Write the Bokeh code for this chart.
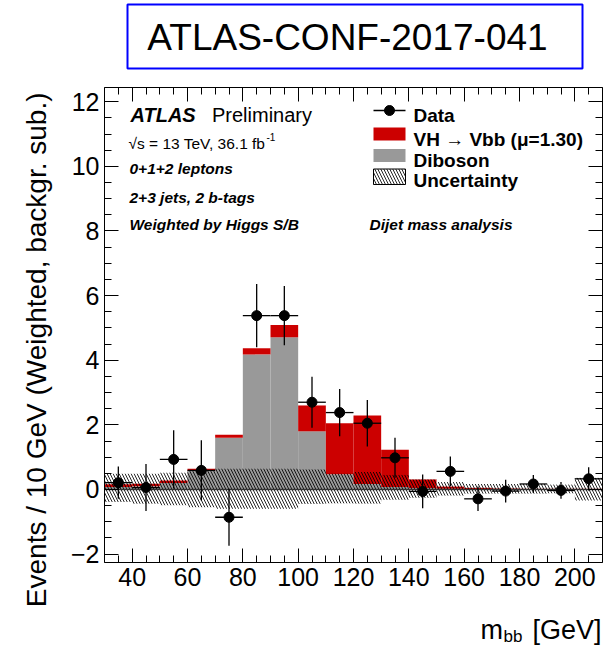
import numpy as np
from bokeh.plotting import figure
from bokeh.models import Range1d, LinearAxis, SingleIntervalTicker, Label, CustomJSTickFormatter
from bokeh.embed import file_html
from bokeh.resources import INLINE

FONT = "Liberation Sans"

# ---- data: m_bb distribution, 10 GeV bins, weighted and background subtracted ----
bin_edges = [30, 40, 50, 60, 70, 80, 90, 100, 110, 120, 130, 140, 150, 160, 170, 180, 190, 200, 210]
diboson = [0.08, 0.10, 0.20, 0.57, 1.60, 4.18, 4.71, 1.80, 0.47, 0.17, 0.08, 0.04, 0.02, 0.01, 0.0, 0.0, 0.0, 0.0]
vh_signal = [0.08, 0.08, 0.08, 0.07, 0.09, 0.19, 0.38, 0.80, 1.58, 2.12, 1.15, 0.27, 0.07, 0.04, 0.03, 0.02, 0.02, 0.02]
unc_up = [0.49, 0.49, 0.52, 0.60, 0.64, 0.64, 0.64, 0.62, 0.49, 0.54, 0.45, 0.31, 0.23, 0.17, 0.17, 0.17, 0.15, 0.36]
unc_down = [0.39, 0.44, 0.49, 0.55, 0.60, 0.60, 0.60, 0.45, 0.43, 0.44, 0.32, 0.26, 0.19, 0.13, 0.13, 0.13, 0.12, 0.34]
data_vals = [0.21, 0.06, 0.93, 0.59, -0.86, 5.38, 5.38, 2.70, 2.38, 2.05, 0.98, -0.06, 0.56, -0.29, -0.05, 0.17, -0.03, 0.33]
data_errs = [0.50, 0.73, 0.90, 0.93, 0.88, 0.98, 0.92, 0.79, 0.73, 0.72, 0.62, 0.52, 0.46, 0.38, 0.35, 0.28, 0.26, 0.36]

x_tick_step = 20
y_tick_step = 2

# ---- derived arrays ----
left = np.array(bin_edges[:-1], dtype=float)
right = np.array(bin_edges[1:], dtype=float)
centers = 0.5 * (left + right)
dib = np.array(diboson)
stack_top = dib + np.array(vh_signal)
dv = np.array(data_vals)
de = np.array(data_errs)

# ---- page geometry ----
W, H = 610, 645
X0, X1 = 30.0, 210.0          # axis bounds
Y0, Y1 = -2.26, 12.44
L, R, T, B = 104.0, 602.0, 87.0, 562.0   # plot box on the page (pixels)

SX = (R - L) / (X1 - X0)
SY = (B - T) / (Y1 - Y0)


def gx(px):
    return X0 + (px - L) / SX


def gy(py):
    return Y0 + (B - py) / SY


p = figure(width=W, height=H,
           x_range=Range1d(gx(0), gx(W)), y_range=Range1d(gy(H), gy(0)),
           toolbar_location=None, output_backend="svg",
           x_axis_location=None, y_axis_location=None, min_border=0)
p.grid.visible = False
p.outline_line_color = None
p.background_fill_color = "white"
p.border_fill_color = "white"


def make_axis(step, loc, bounds, labelled):
    ax = LinearAxis(ticker=SingleIntervalTicker(interval=step, num_minor_ticks=4),
                    fixed_location=loc, bounds=bounds)
    ax.major_tick_in = 14
    ax.major_tick_out = 0
    ax.minor_tick_in = 7
    ax.minor_tick_out = 0
    ax.axis_line_color = "black"
    ax.axis_line_width = 1
    ax.major_tick_line_color = "black"
    ax.minor_tick_line_color = "black"
    if labelled:
        ax.major_label_text_font = FONT
        ax.major_label_text_font_size = "25px"
        ax.major_label_text_color = "black"
        ax.major_label_standoff = 5
    else:
        # mirrored tick marks only
        ax.formatter = CustomJSTickFormatter(code="return ''")
        ax.major_label_standoff = 0
    return ax


p.add_layout(make_axis(x_tick_step, Y0, (X0, X1), True), "below")
p.add_layout(make_axis(x_tick_step, Y1, (X0, X1), False), "above")
y_left = make_axis(y_tick_step, X0, (Y0, Y1), True)
y_left.major_label_overrides = {-2: "\u22122"}
p.add_layout(y_left, "left")
p.add_layout(make_axis(y_tick_step, X1, (Y0, Y1), False), "right")

# stacked histograms
p.quad(left=left, right=right, bottom=0, top=dib, fill_color="#999999", line_color=None)
p.quad(left=left, right=right, bottom=dib, top=stack_top, fill_color="#cc0000", line_color=None)

# background uncertainty band
p.quad(left=left, right=right, bottom=-np.array(unc_down), top=np.array(unc_up),
       fill_color=None, line_color=None, hatch_pattern="\\", hatch_color="black",
       hatch_scale=6, hatch_weight=1, hatch_alpha=0.85)

# zero line
p.segment(x0=[X0], x1=[X1], y0=[0], y1=[0], line_color="#333333", line_width=1.5)

# data points with errors
p.segment(x0=centers, x1=centers, y0=dv - de, y1=dv + de, line_color="black", line_width=1.3)
p.segment(x0=left, x1=right, y0=dv, y1=dv, line_color="black", line_width=1.3)
p.scatter(centers, dv, size=10, color="black")


def lab(px, py, text, size, style="normal", align="left", baseline="alphabetic", angle=0.0):
    p.add_layout(Label(x=gx(px), y=gy(py), text=text,
                       text_font=FONT, text_font_size=size, text_font_style=style,
                       text_align=align, text_baseline=baseline, angle=angle,
                       text_color="black"))


# header box
p.quad(left=[gx(127)], right=[gx(582)], top=[gy(4)], bottom=[gy(68)], fill_color=None,
       line_color="#0000ff", line_width=2)
lab(347, 37, "ATLAS-CONF-2017-041", "37px", align="center", baseline="middle")

# ATLAS labels
lab(130, 114.5, "ATLAS", "20px", "bold italic")
lab(211.5, 114.5, "Preliminary", "20px")
lab(128, 142.5, "\u221as = 13 TeV, 36.1 fb", "15.5px")
lab(266, 136, "-1", "10px")
lab(129, 168, "0+1+2 leptons", "15.5px", "bold italic")
lab(129, 196.5, "2+3 jets, 2 b-tags", "15.5px", "bold italic")
lab(129, 224, "Weighted by Higgs S/B", "15.5px", "bold italic")
lab(369, 224, "Dijet mass analysis", "15.5px", "bold italic")

# legend
p.segment(x0=[gx(373)], x1=[gx(405)], y0=[gy(110)], y1=[gy(110)], line_color="black", line_width=1.3)
p.scatter([gx(389)], [gy(110)], size=10, color="black")
p.quad(left=[gx(373)], right=[gx(405)], top=[gy(127)], bottom=[gy(140)],
       fill_color="#cc0000", line_color=None)
p.quad(left=[gx(373)], right=[gx(405)], top=[gy(148.5)], bottom=[gy(161.5)],
       fill_color="#999999", line_color=None)
p.quad(left=[gx(373)], right=[gx(405)], top=[gy(168.5)], bottom=[gy(184)], fill_color=None,
       line_color="black", line_width=1, hatch_pattern="\\", hatch_color="black",
       hatch_scale=6, hatch_weight=1, hatch_alpha=0.85)
lab(413, 115, "Data", "19px", "bold")
lab(413, 139, "VH \u2192 Vbb (\u03bc=1.30)", "19px", "bold")
lab(413, 160, "Diboson", "19px", "bold")
lab(413, 180, "Uncertainty", "19px", "bold")

# axis titles
lab(36, 92, "Events / 10 GeV (Weighted, backgr. sub.)", "28px", align="right", angle=np.pi / 2)
lab(480, 629, "m", "27px")
lab(503, 636, "bb", "17px")
lab(601, 629, "[GeV]", "27px", align="right")

open("out.html", "w").write(file_html(p, INLINE))
